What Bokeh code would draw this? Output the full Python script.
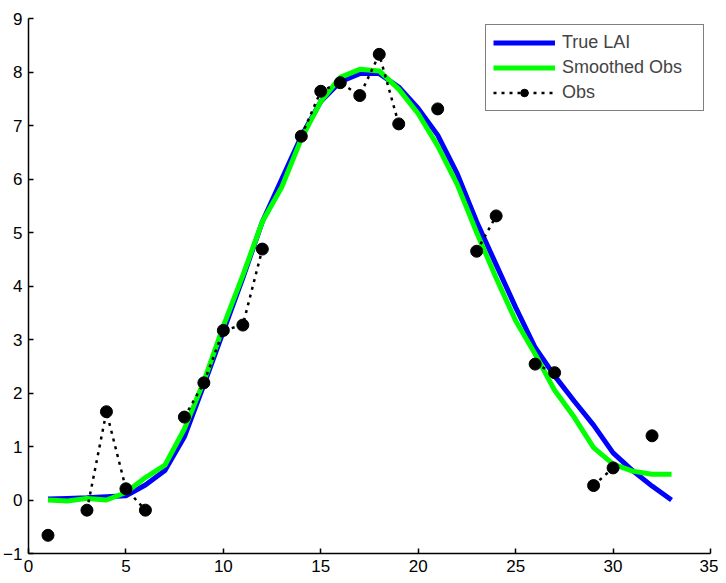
import numpy as np
from bokeh.plotting import figure
from bokeh.models import Range1d, FixedTicker, Legend, LegendItem
from bokeh.embed import file_html
from bokeh.resources import INLINE

# Days
days = list(range(1, 34))

true_lai = [0.02, 0.03, 0.04, 0.06, 0.08, 0.28, 0.55, 1.18, 2.15, 3.15, 4.15, 5.2,
            6.0, 6.8, 7.45, 7.82, 7.97, 7.97, 7.72, 7.32, 6.82, 6.1, 5.2, 4.4,
            3.6, 2.85, 2.32, 1.85, 1.4, 0.88, 0.55, 0.26, 0.0]

smoothed_obs = [0.0, -0.02, 0.03, 0.0, 0.14, 0.42, 0.65, 1.33, 2.22, 3.25, 4.2, 5.2,
                5.85, 6.75, 7.45, 7.9, 8.05, 8.02, 7.68, 7.22, 6.62, 5.9, 5.0, 4.15,
                3.35, 2.73, 2.05, 1.55, 0.98, 0.67, 0.54, 0.48, 0.48]

obs_days = list(range(1, 33))
obs_vals = [-0.66, np.nan, -0.19, 1.65, 0.21, -0.19, np.nan, 1.55, 2.19, 3.17, 3.27, 4.69,
            np.nan, 6.8, 7.64, 7.8, 7.56, 8.33, 7.03, np.nan, 7.31, np.nan, 4.65, 5.31,
            np.nan, 2.54, 2.38, np.nan, 0.27, 0.6, np.nan, 1.2]

x_ticks = [0, 5, 10, 15, 20, 25, 30, 35]
y_ticks = [-1, 0, 1, 2, 3, 4, 5, 6, 7, 8, 9]

FONT = "Liberation Sans"

p = figure(width=718, height=575, output_backend="svg", toolbar_location=None,
           x_range=Range1d(0, 35), y_range=Range1d(-1, 9),
           min_border_left=24, min_border_right=8, min_border_top=18, min_border_bottom=22)
p.outline_line_color = None
p.grid.visible = False
p.background_fill_color = "white"

for ax, ticks in ((p.xaxis[0], x_ticks), (p.yaxis[0], y_ticks)):
    ax.ticker = FixedTicker(ticks=ticks)
    ax.major_tick_in = 5
    ax.major_tick_out = 0
    ax.minor_tick_line_color = None
    ax.axis_line_color = "black"
    ax.axis_line_width = 1.5
    ax.major_tick_line_color = "black"
    ax.major_tick_line_width = 1.5
    ax.major_label_text_font = FONT
    ax.major_label_text_font_size = "17px"
    ax.major_label_text_color = "black"
    ax.major_label_standoff = 6

r_true = p.line(days, true_lai, line_color="#0000ff", line_width=5)
r_smooth = p.line(days, smoothed_obs, line_color="#00ff00", line_width=5)
r_obs_line = p.line(obs_days, obs_vals, line_color="black", line_width=2.5, line_dash="3 5")
r_obs_pts = p.scatter(obs_days, obs_vals, marker="circle", size=12,
                      fill_color="black", line_color="black")

legend = Legend(items=[
    LegendItem(label="True LAI", renderers=[r_true]),
    LegendItem(label="Smoothed Obs", renderers=[r_smooth]),
    LegendItem(label="Obs", renderers=[r_obs_line, r_obs_pts]),
], location="top_right")
legend.margin = 6
legend.padding = 7
legend.spacing = 4
legend.glyph_width = 62
legend.glyph_height = 19
legend.label_height = 19
legend.label_width = 134
legend.label_standoff = 7
legend.label_text_font = FONT
legend.label_text_font_size = "18px"
legend.border_line_color = "black"
legend.border_line_width = 1
legend.background_fill_alpha = 1
p.add_layout(legend)

open("out.html", "w").write(file_html(p, INLINE))
